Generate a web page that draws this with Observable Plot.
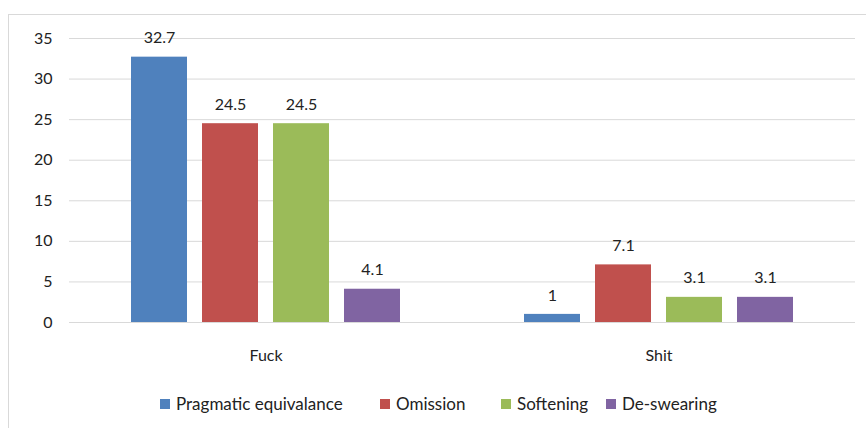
<!DOCTYPE html>
<html>
<head>
<meta charset="utf-8">
<script src="https://cdn.jsdelivr.net/npm/d3@7"></script>
<script src="https://cdn.jsdelivr.net/npm/@observablehq/plot@0.6"></script>
<style>
  html, body { margin: 0; padding: 0; background: #fff; }
  body { width: 866px; height: 428px; position: relative; overflow: hidden; font-family: Lato, "Open Sans", sans-serif; }
  #frame { position: absolute; left: 8px; top: 14px; right: -2px; bottom: -2px; border-left: 1px solid #d9d9d9; border-top: 1px solid #d9d9d9; }
  #chart { position: absolute; left: 0; top: 0; }
  #legend { position: absolute; left: 0; top: 393px; width: 866px; height: 24px; font-size: 17px; color: #222; }
  .item { position: absolute; top: 0; display: flex; align-items: center; white-space: nowrap; }
  .sw { width: 10px; height: 10px; margin-right: 6px; display: inline-block; }
</style>
</head>
<body>
<div id="frame"></div>
<div id="chart"></div>
<div id="legend"></div>
<script>
// Swear words and translation strategies
const words = ["Fuck", "Shit"];
const strategies = ["Pragmatic equivalance", "Omission", "Softening", "De-swearing"];
const colors = ["#4f81bd", "#c0504d", "#9bbb59", "#8064a2"];
const fuckValues = [32.7, 24.5, 24.5, 4.1];
const shitValues = [1, 7.1, 3.1, 3.1];
const yTicks = [0, 5, 10, 15, 20, 25, 30, 35];

const rows = [
  ...strategies.map((s, i) => ({word: "Fuck", strategy: s, value: fuckValues[i]})),
  ...strategies.map((s, i) => ({word: "Shit", strategy: s, value: shitValues[i]}))
];

const font = "Lato, 'Open Sans', sans-serif";

const chart = Plot.plot({
  width: 866,
  height: 380,
  marginTop: 38,
  marginBottom: 58,
  marginLeft: 69,
  marginRight: 11,
  style: {fontFamily: font, fontSize: "16px", color: "#222"},
  fx: {domain: words, padding: 0, label: null},
  x: {domain: strategies, paddingInner: 0.215, paddingOuter: 0.86, axis: null},
  y: {domain: [0, 35], label: null},
  color: {domain: strategies, range: colors},
  marks: [
    Plot.ruleY(yTicks, {stroke: "#d9d9d9", strokeWidth: 1, strokeOpacity: 1}),
    Plot.axisY({ticks: yTicks, tickSize: 0, tickPadding: 17, label: null, fontSize: 16}),
    Plot.axisFx({anchor: "bottom", tickSize: 0, tickPadding: 27, label: null, fontSize: 16}),
    Plot.barY(rows, {fx: "word", x: "strategy", y: "value", fill: "strategy"}),
    Plot.text(rows, {fx: "word", x: "strategy", y: "value", text: d => String(d.value), dy: -19, fontSize: 16, fill: "#222"})
  ]
});
document.getElementById("chart").appendChild(chart);

// Legend entries, placed left to right under the plot
const legendLeft = [160, 380, 501, 606];
const legend = document.getElementById("legend");
strategies.forEach((s, i) => {
  const item = document.createElement("div");
  item.className = "item";
  item.style.left = legendLeft[i] + "px";
  const sw = document.createElement("span");
  sw.className = "sw";
  sw.style.background = colors[i];
  const label = document.createElement("span");
  label.textContent = s;
  item.appendChild(sw);
  item.appendChild(label);
  legend.appendChild(item);
});
</script>
</body>
</html>
